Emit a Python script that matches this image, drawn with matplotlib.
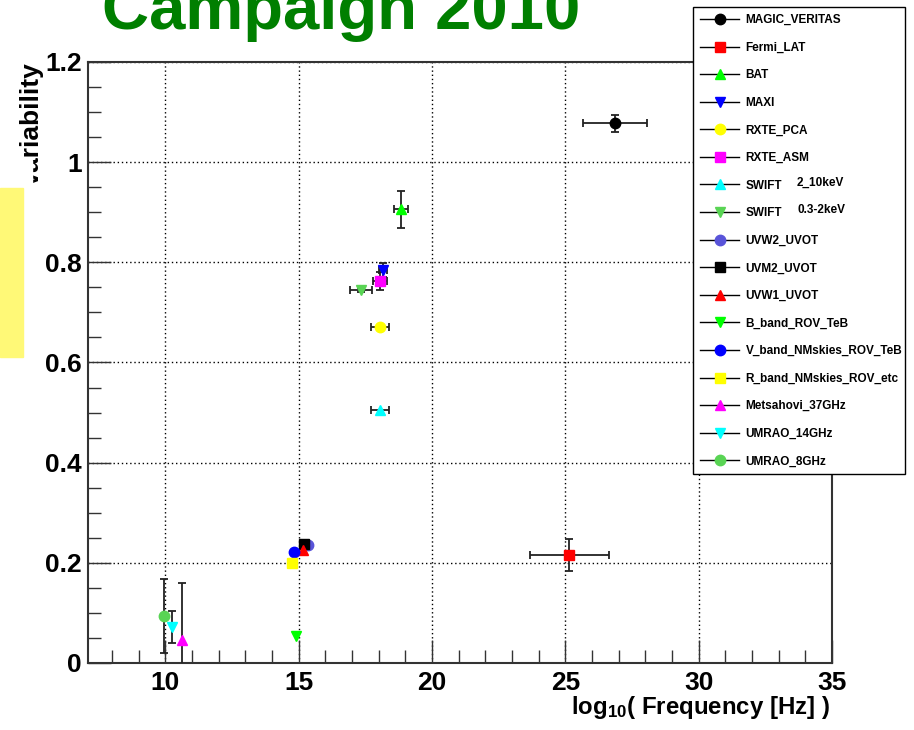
import numpy as np
import matplotlib
matplotlib.use("Agg")
import matplotlib.pyplot as plt
from matplotlib.lines import Line2D
from matplotlib.patches import Rectangle
from matplotlib.ticker import MultipleLocator

plt.rcParams['font.family'] = ['Liberation Sans', 'DejaVu Sans']
plt.rcParams['font.weight'] = 'bold'
plt.rcParams['mathtext.fontset'] = 'custom'
plt.rcParams['mathtext.rm'] = 'Liberation Sans:bold'
plt.rcParams['mathtext.default'] = 'rm'

# instrument / band names (legend order)
names = ["MAGIC_VERITAS", "Fermi_LAT", "BAT", "MAXI", "RXTE_PCA", "RXTE_ASM",
         "SWIFT", "SWIFT", "UVW2_UVOT", "UVM2_UVOT", "UVW1_UVOT",
         "B_band_ROV_TeB", "V_band_NMskies_ROV_TeB", "R_band_NMskies_ROV_etc",
         "Metsahovi_37GHz", "UMRAO_14GHz", "UMRAO_8GHz"]

# log10(frequency) and fractional variability with errors
log_freq = [26.85, 25.15, 18.84, 18.18, 18.05, 18.05, 18.05, 17.35,
            15.34, 15.19, 15.15, 14.89, 14.81, 14.74, 10.64, 10.26, 9.96]
freq_err = [1.2, 1.48, 0.25, 0.15, 0.35, 0.26, 0.35, 0.41,
            0, 0, 0, 0, 0, 0, 0, 0, 0]
fvar = [1.078, 0.216, 0.906, 0.785, 0.671, 0.763, 0.505, 0.745,
        0.235, 0.237, 0.226, 0.054, 0.222, 0.200, 0.046, 0.072, 0.094]
fvar_err = [0.017, 0.032, 0.037, 0.014, 0.0, 0.018, 0.0, 0.004,
            0, 0, 0, 0, 0, 0, 0.113, 0.032, 0.074]

# marker style per entry
colors = ["#000000", "#ff0000", "#00ff00", "#0000ff", "#ffff00", "#ff00ff",
          "#00ffff", "#59d454", "#5954d9", "#000000", "#ff0000", "#00ff00",
          "#0000ff", "#ffff00", "#ff00ff", "#00ffff", "#59d454"]
markers = ["o", "s", "^", "v", "o", "s", "^", "v", "o", "s", "^", "v",
           "o", "s", "^", "v", "o"]

fig = plt.figure(figsize=(9.14, 7.3), dpi=100)
W, H = 914, 730
ax = fig.add_axes([88 / W, 1 - 663 / H, (832 - 88) / W, (663 - 62) / H])

for i in range(len(names)):
    ax.errorbar(log_freq[i], fvar[i],
                xerr=freq_err[i] if freq_err[i] > 0 else None,
                yerr=fvar_err[i] if fvar_err[i] > 0 else None,
                fmt=markers[i], color=colors[i], mec=colors[i], ms=7.5,
                ecolor="#222222", elinewidth=1.3, capsize=3, capthick=1.3,
                zorder=3, clip_on=True)

ax.set_xlim(7.1, 35)
ax.set_ylim(0, 1.2)
ax.xaxis.set_major_locator(MultipleLocator(5))
ax.xaxis.set_minor_locator(MultipleLocator(1))
ax.yaxis.set_major_locator(MultipleLocator(0.2))
ax.yaxis.set_minor_locator(MultipleLocator(0.05))
ax.yaxis.set_major_formatter(plt.FuncFormatter(lambda v, p: "%g" % round(v, 1)))
ax.tick_params(which='both', direction='in', top=False, right=False,
               width=1.0, color='#333333', labelsize=19)
ax.tick_params(which='major', length=16.5)
ax.tick_params(which='minor', length=9.5)
ax.tick_params(axis='y', pad=4.5)
ax.tick_params(axis='x', pad=6)
ax.grid(True, which='major', color='k', linestyle=(0, (1, 2)), lw=1.0)
for sp in ax.spines.values():
    sp.set_color('#333333')
    sp.set_linewidth(1.5)

# axis titles
fig.text(830 / W, 1 - 714 / H, "log$_{10}$( Frequency [Hz] )", ha='right',
         va='baseline', fontsize=17.3, fontweight='bold')
fig.text(44 / W, 1 - 62 / H, "Variability", rotation=90, ha='right', va='top',
         fontsize=19, fontweight='bold')
fig.patches.append(Rectangle((10 / W, 1 - 245 / H), 22 / W, 85 / H,
                             transform=fig.transFigure, color='white', zorder=5))
fig.patches.append(Rectangle((10 / W, 1 - 245 / H), 40 / W, 55 / H,
                             transform=fig.transFigure, color='white', zorder=5))
fig.patches.append(Rectangle((0, 1 - 357 / H), 23 / W, 169 / H,
                             transform=fig.transFigure, color='#fff977', zorder=6))

fig.text(102 / W, 1 - 29 / H, "Campaign 2010", color='#007f00', fontsize=47,
         fontweight='bold', ha='left', va='baseline')

# legend
handles = [Line2D([], [], color='k', lw=1.0, marker=markers[i], mfc=colors[i],
                  mec=colors[i], ms=7.5) for i in range(len(names))]
leg = fig.legend(handles, names, loc='upper left',
                 bbox_to_anchor=(693 / W, 0, 212 / W, 1 - 7 / H),
                 mode='expand', prop={'weight': 'bold', 'size': 8.5},
                 frameon=True, fancybox=False, edgecolor='k', framealpha=1,
                 handlelength=3.3, handletextpad=0.55, labelspacing=1.32,
                 borderpad=0.6, borderaxespad=0)
leg.get_frame().set_linewidth(1.0)
# energy bands next to the two SWIFT entries
fig.text(797 / W, 1 - 186 / H, "2_10keV", fontsize=8.5, fontweight='bold',
         ha='left', va='baseline', zorder=10)
fig.text(797 / W, 1 - 213 / H, "0.3-2keV", fontsize=8.5, fontweight='bold',
         ha='left', va='baseline', zorder=10)

fig.savefig("out.png", dpi=100)
